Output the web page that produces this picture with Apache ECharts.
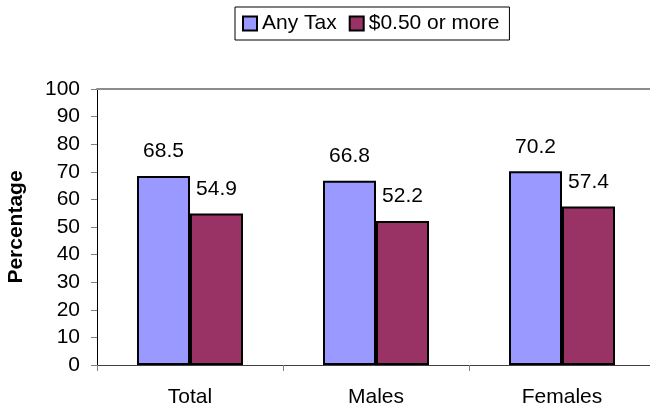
<!DOCTYPE html>
<html>
<head>
<meta charset="utf-8">
<script src="https://cdn.jsdelivr.net/npm/echarts@6/dist/echarts.min.js"></script>
<style>html,body{margin:0;padding:0;background:#fff;}#c{width:650px;height:409px;}</style>
</head>
<body>
<div id="c"></div>
<script>
const categories = ['Total', 'Males', 'Females'];
const anyTax = [68.5, 66.8, 70.2];
const fiftyOrMore = [54.9, 52.2, 57.4];
const seriesNames = ['Any Tax', '$0.50 or more'];
const yTicks = [0, 100, 10];

const FONT = 'Liberation Sans, Arial, sans-serif';
const FS = 21;
const chart = echarts.init(document.getElementById('c'), null, {renderer: 'canvas'});
chart.setOption({
  animation: false,
  textStyle: {fontFamily: FONT},
  legend: {
    top: 7, left: 235,
    data: seriesNames,
    itemWidth: 14, itemHeight: 14, itemGap: 12,
    borderColor: '#000', borderWidth: 1,
    padding: [6, 10, 6, 7],
    textStyle: {fontFamily: FONT, fontSize: FS, color: '#000'},
    icon: 'rect'
  },
  grid: {left: 97, top: 89, bottom: 44, width: 558, outerBoundsMode: 'none', containLabel: false},
  xAxis: [{
    type: 'category', data: categories,
    axisLine: {lineStyle: {color: '#404040', width: 1}},
    axisTick: {show: true, length: 6, lineStyle: {color: '#808080'}},
    axisLabel: {fontSize: FS, color: '#000', margin: 22, fontFamily: FONT}
  }, {
    type: 'category', data: categories, position: 'top',
    axisLine: {show: true, lineStyle: {color: '#8c8c8c', width: 2}},
    axisTick: {show: false}, axisLabel: {show: false}
  }],
  yAxis: {
    type: 'value', min: yTicks[0], max: yTicks[1], interval: yTicks[2],
    name: 'Percentage', nameLocation: 'middle', nameGap: 70,
    nameTextStyle: {fontSize: FS, fontWeight: 'bold', color: '#000', fontFamily: FONT},
    axisLine: {show: true, lineStyle: {color: '#000'}},
    axisTick: {show: true, length: 6, lineStyle: {color: '#808080'}},
    axisLabel: {fontSize: FS, color: '#000', margin: 17, fontFamily: FONT},
    splitLine: {show: false}
  },
  series: [{
    name: seriesNames[0], type: 'bar', data: anyTax, barWidth: 53, barGap: '0%',
    itemStyle: {color: '#9999FF', borderColor: '#000', borderWidth: 2},
    label: {show: true, position: 'top', distance: 14, fontSize: FS, color: '#000', fontFamily: FONT}
  }, {
    name: seriesNames[1], type: 'bar', data: fiftyOrMore, barWidth: 53, barGap: '0%',
    itemStyle: {color: '#993366', borderColor: '#000', borderWidth: 2},
    label: {show: true, position: 'top', distance: 14, fontSize: FS, color: '#000', fontFamily: FONT}
  }]
});
</script>
</body>
</html>
